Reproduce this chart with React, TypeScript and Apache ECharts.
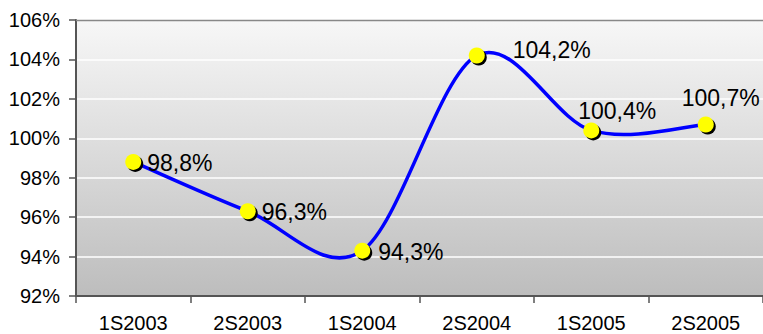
import React, { useEffect, useRef } from "react";
import * as echarts from "echarts";

const categories = ["1S2003", "2S2003", "1S2004", "2S2004", "1S2005", "2S2005"];
const values = [98.8, 96.3, 94.3, 104.2, 100.4, 100.7];
const valueLabels = ["98,8%", "96,3%", "94,3%", "104,2%", "100,4%", "100,7%"];
const yMin = 92;
const yMax = 106;
const yStep = 2;

const labelPlacement: { position: string; offset: number[] }[] = [
  { position: "right", offset: [2, 1] },
  { position: "right", offset: [2, 1] },
  { position: "right", offset: [4, 1] },
  { position: "right", offset: [24, -5] },
  { position: "top", offset: [26, 4] },
  { position: "top", offset: [15, -3] },
];

export default function App() {
  const ref = useRef<HTMLDivElement>(null);
  useEffect(() => {
    if (!ref.current) return;
    const chart = echarts.init(ref.current, null, { renderer: "svg" });
    const font = 'Arial, "Liberation Sans", sans-serif';
    chart.setOption({
      animation: false,
      backgroundColor: "#ffffff",
      grid: {
        left: 76,
        right: 0,
        top: 20,
        bottom: 38,
        show: true,
        borderWidth: 0,
        backgroundColor: new echarts.graphic.LinearGradient(0, 0, 0, 1, [
          { offset: 0, color: "#f7f7f7" },
          { offset: 1, color: "#bdbdbd" },
        ]),
      },
      xAxis: {
        type: "category",
        data: categories,
        boundaryGap: true,
        axisLine: { show: true, lineStyle: { color: "#555555", width: 2 } },
        axisTick: { show: true, length: 7, lineStyle: { color: "#555555", width: 1.5 } },
        axisLabel: { color: "#000000", fontSize: 20, fontFamily: font, margin: 17 },
        splitLine: { show: false },
      },
      yAxis: {
        type: "value",
        min: yMin,
        max: yMax,
        interval: yStep,
        axisLine: { show: true, lineStyle: { color: "#555555", width: 2 } },
        axisTick: { show: true, length: 7, lineStyle: { color: "#555555", width: 1.5 } },
        axisLabel: {
          color: "#000000",
          fontSize: 20,
          fontFamily: font,
          margin: 16,
          formatter: "{value}%",
        },
        splitLine: { show: true, lineStyle: { color: "#ffffff", width: 1.5 } },
      },
      graphic: [
        {
          type: "line",
          shape: { x1: 76, y1: 20.5, x2: 763, y2: 20.5 },
          style: { stroke: "#888888", lineWidth: 1.5 },
          z: 1,
        },
      ],
      series: [
        {
          type: "custom",
          data: values.map((v, i) => [i, v]),
          z: 2,
          renderItem: (params: any, api: any) => {
            if (params.dataIndex !== 0) return null;
            const pts = values.map((v, i) => api.coord([i, v]));
            const n = pts.length;
            let d = `M${pts[0][0]},${pts[0][1]}`;
            for (let i = 0; i < n - 1; i++) {
              const p0 = pts[Math.max(i - 1, 0)];
              const p1 = pts[i];
              const p2 = pts[i + 1];
              const p3 = pts[Math.min(i + 2, n - 1)];
              const c1x = p1[0] + (p2[0] - p0[0]) / 6;
              const c1y = p1[1] + (p2[1] - p0[1]) / 6;
              const c2x = p2[0] - (p3[0] - p1[0]) / 6;
              const c2y = p2[1] - (p3[1] - p1[1]) / 6;
              d += ` C${c1x},${c1y} ${c2x},${c2y} ${p2[0]},${p2[1]}`;
            }
            return {
              type: "path",
              shape: { pathData: d },
              style: { stroke: "#0000ff", lineWidth: 3.5, fill: "none" },
            };
          },
        },
        {
          type: "scatter",
          data: values,
          symbol: "circle",
          symbolSize: 16,
          symbolOffset: [2, 2],
          itemStyle: { color: "#000000", opacity: 1 },
          z: 3,
        },
        {
          type: "scatter",
          data: values.map((v, i) => ({
            value: v,
            label: {
              show: true,
              position: labelPlacement[i].position,
              offset: labelPlacement[i].offset,
              formatter: valueLabels[i],
            },
          })),
          symbol: "circle",
          symbolSize: 16,
          itemStyle: { color: "#ffff00", opacity: 1 },
          label: {
            show: true,
            color: "#000000",
            fontSize: 23,
            fontFamily: font,
            distance: 4,
          },
          z: 4,
        },
      ],
    });
    return () => chart.dispose();
  }, []);
  return (
    <div
      ref={ref}
      style={{ position: "absolute", left: 0, top: 0, width: 763, height: 334 }}
    />
  );
}
